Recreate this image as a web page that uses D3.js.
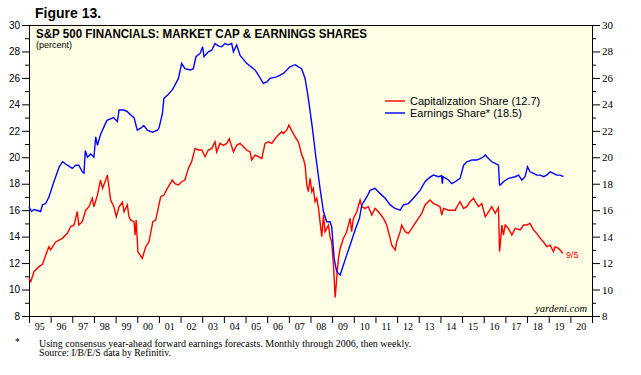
<!DOCTYPE html>
<html>
<head>
<meta charset="utf-8">
<script src="https://cdn.jsdelivr.net/npm/d3@7"></script>
<style>
  body { margin: 0; background: #fff; }
  svg { display: block; }
</style>
</head>
<body>
<div id="chart"></div>
<script>
// capitalization share: [decimal year, percent]
var capShare = [
  [1995.00,10.85],[1995.08,10.6],[1995.23,11.35],[1995.46,11.73],[1995.62,11.9],[1995.77,12.6],
  [1995.92,13.24],[1996.00,13.0],[1996.23,13.6],[1996.54,13.87],[1996.77,14.25],[1996.92,14.75],
  [1997.08,14.88],[1997.23,15.9],[1997.30,14.88],[1997.46,15.13],[1997.62,16.0],[1997.77,16.26],
  [1997.92,16.9],[1998.00,16.26],[1998.16,17.14],[1998.30,18.28],[1998.40,17.65],[1998.62,18.65],
  [1998.77,16.77],[1998.92,16.26],[1999.03,15.5],[1999.16,16.26],[1999.31,16.6],[1999.39,15.88],
  [1999.54,16.4],[1999.62,15.5],[1999.70,15.25],[1999.85,15.13],[1999.90,14.12],[1999.95,15.25],
  [2000.03,12.86],[2000.23,12.36],[2000.39,13.24],[2000.54,13.6],[2000.72,15.13],[2000.85,15.25],
  [2001.08,17.0],[2001.23,17.14],[2001.39,17.65],[2001.62,18.28],[2001.74,18.0],[2001.90,17.9],
  [2002.05,18.15],[2002.20,18.28],[2002.36,19.16],[2002.51,19.67],[2002.67,20.67],[2002.82,20.55],
  [2002.98,20.55],[2003.13,20.04],[2003.28,20.55],[2003.44,20.67],[2003.59,21.17],[2003.67,20.4],
  [2003.82,21.05],[2003.98,20.9],[2004.13,21.05],[2004.25,21.4],[2004.44,20.4],[2004.59,20.9],
  [2004.75,21.05],[2004.90,20.8],[2005.05,20.55],[2005.21,20.4],[2005.28,19.8],[2005.44,20.16],
  [2005.60,20.04],[2005.75,19.9],[2005.90,21.05],[2006.06,21.17],[2006.21,21.05],[2006.36,21.4],
  [2006.52,21.7],[2006.67,21.93],[2006.75,21.8],[2006.90,22.05],[2007.00,22.43],[2007.12,22.05],
  [2007.29,21.55],[2007.44,21.17],[2007.60,20.16],[2007.67,19.9],[2007.75,19.4],[2007.83,17.9],
  [2007.90,17.4],[2007.98,18.4],[2008.06,17.4],[2008.13,17.65],[2008.21,16.64],[2008.29,16.9],
  [2008.37,16.13],[2008.52,14.0],[2008.60,15.63],[2008.67,14.37],[2008.83,14.88],[2008.90,14.0],
  [2008.98,13.6],[2009.06,11.85],[2009.14,9.4],[2009.21,10.85],[2009.29,12.36],[2009.37,13.1],
  [2009.52,13.86],[2009.67,14.37],[2009.83,15.38],[2009.90,14.37],[2009.98,15.38],[2010.14,15.88],
  [2010.29,16.77],[2010.37,16.26],[2010.52,16.13],[2010.67,16.26],[2010.83,15.63],[2010.98,16.13],
  [2011.14,15.88],[2011.37,15.38],[2011.52,14.88],[2011.68,13.87],[2011.75,13.36],[2011.91,12.99],
  [2011.98,13.6],[2012.14,14.37],[2012.21,14.88],[2012.37,14.37],[2012.52,14.25],[2012.67,14.6],
  [2012.83,15.0],[2012.98,15.38],[2013.14,15.76],[2013.29,16.4],[2013.52,16.77],[2013.68,16.5],
  [2013.83,16.4],[2013.98,16.26],[2014.06,15.63],[2014.14,16.13],[2014.37,16.0],[2014.52,16.0],
  [2014.68,16.0],[2014.76,16.26],[2014.91,16.64],[2015.07,16.13],[2015.22,16.26],[2015.37,16.64],
  [2015.53,16.9],[2015.61,16.64],[2015.76,16.26],[2015.91,16.5],[2016.07,15.5],[2016.22,15.88],
  [2016.37,16.26],[2016.53,15.76],[2016.68,16.2],[2016.73,12.86],[2016.76,13.36],[2016.84,14.88],
  [2016.91,14.12],[2016.99,14.88],[2017.14,14.62],[2017.30,14.12],[2017.45,14.62],[2017.68,14.5],
  [2017.84,14.88],[2017.99,14.88],[2018.14,15.0],[2018.30,14.5],[2018.45,14.25],[2018.61,13.87],
  [2018.76,13.6],[2018.91,13.24],[2019.07,13.36],[2019.22,12.86],[2019.30,13.24],[2019.45,13.11],
  [2019.53,12.99],[2019.65,12.73]
];

// earnings share: [decimal year, percent]
var earnShare = [
  [1995.00,16.26],[1995.12,15.9],[1995.23,16.05],[1995.54,15.9],[1995.62,16.4],[1995.77,16.5],
  [1995.92,17.0],[1996.15,18.15],[1996.40,19.3],[1996.55,19.67],[1996.77,19.4],[1997.00,19.16],
  [1997.15,19.4],[1997.30,19.4],[1997.46,18.9],[1997.54,18.8],[1997.60,20.5],[1997.70,20.0],
  [1997.85,20.25],[1998.00,20.0],[1998.08,21.55],[1998.16,20.9],[1998.30,21.7],[1998.46,22.3],
  [1998.60,22.8],[1998.90,23.0],[1999.08,22.7],[1999.16,23.57],[1999.39,23.57],[1999.54,23.45],
  [1999.70,23.2],[1999.85,23.0],[2000.00,22.05],[2000.16,22.2],[2000.30,22.4],[2000.47,22.05],
  [2000.70,21.9],[2000.93,22.05],[2001.00,22.2],[2001.16,23.3],[2001.23,24.45],[2001.40,24.7],
  [2001.64,25.15],[2001.90,25.96],[2002.05,27.1],[2002.20,26.7],[2002.44,26.6],[2002.59,26.7],
  [2002.71,27.6],[2002.90,27.85],[2003.02,28.35],[2003.08,27.6],[2003.28,27.97],[2003.44,28.1],
  [2003.59,28.6],[2003.75,28.4],[2003.90,28.35],[2004.05,28.6],[2004.20,28.5],[2004.36,28.6],
  [2004.44,27.97],[2004.59,28.5],[2004.75,27.7],[2005.05,27.1],[2005.44,26.6],[2005.60,26.2],
  [2005.82,25.58],[2005.98,25.7],[2006.13,25.96],[2006.44,26.08],[2006.75,26.34],[2007.05,26.84],
  [2007.29,27.0],[2007.44,26.84],[2007.59,26.7],[2007.75,25.96],[2007.90,24.45],[2008.08,22.3],
  [2008.25,20.0],[2008.44,17.65],[2008.60,15.88],[2008.75,15.13],[2008.90,15.13],[2008.98,14.75],
  [2009.09,12.36],[2009.21,11.35],[2009.37,11.1],[2009.52,11.85],[2009.67,12.6],[2009.83,13.36],
  [2010.06,14.5],[2010.26,15.38],[2010.37,16.4],[2010.60,17.0],[2010.75,17.5],[2010.98,17.65],
  [2011.21,17.27],[2011.45,16.9],[2011.68,16.4],[2011.91,16.13],[2012.14,16.0],[2012.29,16.4],
  [2012.52,16.5],[2012.75,16.9],[2013.06,17.5],[2013.29,18.15],[2013.52,18.5],[2013.68,18.65],
  [2013.91,18.53],[2014.05,18.6],[2014.09,18.0],[2014.12,18.53],[2014.37,18.28],[2014.52,18.0],
  [2014.68,18.15],[2014.91,18.4],[2015.07,19.4],[2015.22,19.66],[2015.45,19.79],[2015.68,19.79],
  [2015.84,19.9],[2015.99,20.04],[2016.07,20.17],[2016.22,19.9],[2016.37,19.66],[2016.53,19.54],
  [2016.68,19.41],[2016.73,17.9],[2016.76,17.9],[2016.91,18.15],[2017.14,18.4],[2017.45,18.53],
  [2017.61,18.65],[2017.76,18.28],[2017.91,18.53],[2018.02,19.28],[2018.14,18.9],[2018.30,18.78],
  [2018.45,18.65],[2018.61,18.65],[2018.76,18.53],[2018.91,18.65],[2019.07,18.9],[2019.22,18.78],
  [2019.37,18.65],[2019.53,18.65],[2019.68,18.53]
];

var yearLabels = ["95","96","97","98","99","00","01","02","03","04","05","06","07",
                  "08","09","10","11","12","13","14","15","16","17","18","19","20"];
var legendNames = ["Capitalization Share (12.7)", "Earnings Share* (18.5)"];
var lineColors = ["#ff0000", "#0000ff"];

var width = 641, height = 375;
// plot box (note: "top" is reserved on window, so use p* names)
var pLeft = 29, pRight = 592, pTop = 25, pBottom = 316;

var svg = d3.select("#chart")
    .append("svg")
    .attr("width", width)
    .attr("height", height);

var x = d3.scaleLinear().domain([1995, 2021]).range([pLeft, pRight]);
var y = d3.scaleLinear().domain([8, 30]).range([pBottom, pTop]);

// plot background
svg.append("rect")
    .attr("x", pLeft).attr("y", pTop)
    .attr("width", pRight - pLeft).attr("height", pBottom - pTop)
    .attr("fill", "#ffffe6");

// left axis (sans labels)
var leftAxis = d3.axisLeft(y)
    .tickValues(d3.range(8, 31, 2))
    .tickSize(7)
    .tickPadding(2)
    .tickFormat(d3.format("d"));
var gl = svg.append("g").attr("transform", `translate(${pLeft},0)`).call(leftAxis);
gl.select(".domain").remove();
gl.selectAll("text").attr("font-family", "Liberation Sans, Arial, sans-serif").attr("font-size", 10);
gl.selectAll("line.minor").data(d3.range(9, 30, 2)).enter()
    .append("line").attr("class", "minor")
    .attr("x1", -4).attr("x2", 0)
    .attr("y1", d => y(d) + 0.5).attr("y2", d => y(d) + 0.5)
    .attr("stroke", "#000");

// right axis (serif labels)
var rightAxis = d3.axisRight(y)
    .tickValues(d3.range(8, 31, 2))
    .tickSize(8)
    .tickPadding(2)
    .tickFormat(d3.format("d"));
var gr = svg.append("g").attr("transform", `translate(${pRight},0)`).call(rightAxis);
gr.select(".domain").remove();
gr.selectAll("text").attr("font-family", "Liberation Serif, Times New Roman, serif").attr("font-size", 11);
gr.selectAll("line.minor").data(d3.range(9, 30, 2)).enter()
    .append("line").attr("class", "minor")
    .attr("x1", 0).attr("x2", 4)
    .attr("y1", d => y(d) + 0.5).attr("y2", d => y(d) + 0.5)
    .attr("stroke", "#000");

// bottom axis: ticks at year boundaries, labels mid-year
var bottomAxis = d3.axisBottom(x)
    .tickValues(d3.range(1995, 2022))
    .tickSize(7)
    .tickFormat("");
var gb = svg.append("g").attr("transform", `translate(0,${pBottom})`).call(bottomAxis);
gb.select(".domain").remove();
gb.selectAll("text.yr").data(yearLabels).enter()
    .append("text")
    .attr("class", "yr")
    .attr("x", (d, i) => x(1995.5 + i))
    .attr("y", 14)
    .attr("text-anchor", "middle")
    .attr("font-family", "Liberation Serif, Times New Roman, serif")
    .attr("font-size", 10)
    .attr("fill", "#000")
    .text(d => d);

// frame
svg.append("rect")
    .attr("x", pLeft + 0.5).attr("y", pTop + 0.5)
    .attr("width", pRight - pLeft).attr("height", pBottom - pTop)
    .attr("fill", "none").attr("stroke", "#000");

// lines
var line = d3.line().x(d => x(d[0])).y(d => y(d[1]));
svg.append("path").datum(capShare)
    .attr("d", line).attr("fill", "none")
    .attr("stroke", lineColors[0]).attr("stroke-width", 1.4);
svg.append("path").datum(earnShare)
    .attr("d", line).attr("fill", "none")
    .attr("stroke", lineColors[1]).attr("stroke-width", 1.4);

// titles
svg.append("text")
    .attr("x", 35).attr("y", 18)
    .attr("font-family", "Liberation Sans, Arial, sans-serif")
    .attr("font-size", 14).attr("font-weight", "bold")
    .text("Figure 13.");
svg.append("text")
    .attr("x", 36).attr("y", 38)
    .attr("font-family", "Liberation Sans, Arial, sans-serif")
    .attr("font-size", 12).attr("font-weight", "bold")
    .attr("textLength", 331).attr("lengthAdjust", "spacingAndGlyphs")
    .text("S&P 500 FINANCIALS: MARKET CAP & EARNINGS SHARES");
svg.append("text")
    .attr("x", 36).attr("y", 48)
    .attr("font-family", "Liberation Sans, Arial, sans-serif")
    .attr("font-size", 9)
    .text("(percent)");

// legend
var legend = svg.append("g").attr("class", "legend");
legendNames.forEach(function(name, i) {
  var ly = 101 + i * 12;
  legend.append("line")
      .attr("x1", 385).attr("x2", 405)
      .attr("y1", ly).attr("y2", ly)
      .attr("stroke", lineColors[i]).attr("stroke-width", 1.4);
  legend.append("text")
      .attr("x", 410).attr("y", ly + 4)
      .attr("font-family", "Liberation Sans, Arial, sans-serif")
      .attr("font-size", 11)
      .text(name);
});

// end date label
svg.append("text")
    .attr("x", 566).attr("y", 258)
    .attr("font-family", "Liberation Sans, Arial, sans-serif")
    .attr("font-size", 9).attr("fill", "#ff0000")
    .text("9/5");

svg.append("text")
    .attr("x", 587).attr("y", 312)
    .attr("text-anchor", "end")
    .attr("font-family", "Liberation Serif, Times New Roman, serif")
    .attr("font-size", 10.5).attr("font-style", "italic")
    .text("yardeni.com");

// footnote
var foot = svg.append("g")
    .attr("font-family", "Liberation Serif, Times New Roman, serif")
    .attr("font-size", 9.5);
foot.append("text").attr("x", 15).attr("y", 345).text("*");
foot.append("text").attr("x", 39).attr("y", 346.5)
    .attr("textLength", 372).attr("lengthAdjust", "spacingAndGlyphs")
    .text("Using consensus year-ahead forward earnings forecasts. Monthly through 2006, then weekly.");
foot.append("text").attr("x", 39).attr("y", 356)
    .attr("textLength", 132).attr("lengthAdjust", "spacingAndGlyphs")
    .text("Source: I/B/E/S data by Refinitiv.");
</script>
</body>
</html>
